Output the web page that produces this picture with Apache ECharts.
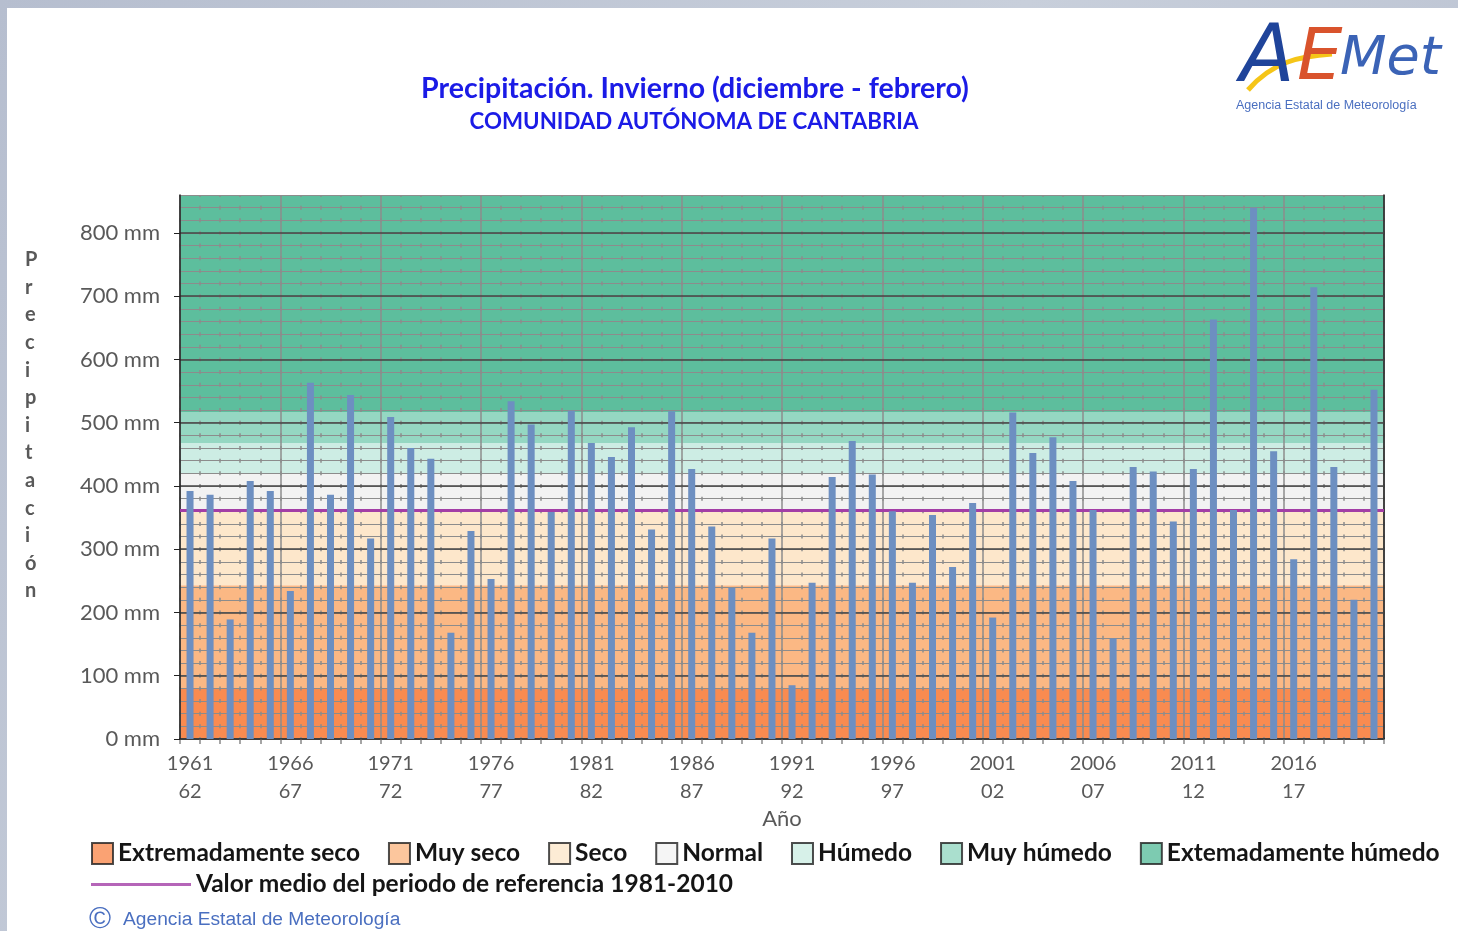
<!DOCTYPE html>
<html>
<head>
  <meta charset="utf-8">
  <script src="https://cdn.jsdelivr.net/npm/echarts/dist/echarts.min.js"></script>
  <style>
    body { margin: 0; background: #bcc4d3; overflow: hidden; }
    #main { position: absolute; left: 0; top: 0; width: 1458px; height: 931px; }
  </style>
  <title>Precipitación invierno Cantabria</title>
  <script type="text/javascript">

    // winters (Dec-Feb), label "start-end"
    const winters = [
      '1961-62','1962-63','1963-64','1964-65','1965-66','1966-67','1967-68','1968-69','1969-70','1970-71',
      '1971-72','1972-73','1973-74','1974-75','1975-76','1976-77','1977-78','1978-79','1979-80','1980-81',
      '1981-82','1982-83','1983-84','1984-85','1985-86','1986-87','1987-88','1988-89','1989-90','1990-91',
      '1991-92','1992-93','1993-94','1994-95','1995-96','1996-97','1997-98','1998-99','1999-00','2000-01',
      '2001-02','2002-03','2003-04','2004-05','2005-06','2006-07','2007-08','2008-09','2009-10','2010-11',
      '2011-12','2012-13','2013-14','2014-15','2015-16','2016-17','2017-18','2018-19','2019-20','2020-21'
    ];
    // precipitation (mm)
    const precip = [
      392, 386, 189, 408, 392, 234, 563, 386, 544, 317,
      509, 460, 443, 168, 329, 253, 534, 497, 359, 519,
      468, 446, 493, 331, 518, 427, 336, 239, 168, 317,
       85, 247, 414, 471, 418, 360, 247, 354, 272, 373,
      192, 516, 452, 477, 408, 362, 159, 430, 423, 344,
      427, 663, 362, 840, 455, 284, 714, 430, 220, 552
    ];
    // classification bands
    const bandNames = ['Extremadamente seco', 'Muy seco', 'Seco', 'Normal', 'Húmedo', 'Muy húmedo', 'Extemadamente húmedo'];
    const bandLimits = [0, 80, 243, 361, 419, 468, 517, 860];
    const bandColors = ['#F98B50', '#FBB884', '#FDE7CB', '#F2F2F2', '#CDEDE4', '#95D7C2', '#5DBE9D'];
    const meanName = 'Valor medio del periodo de referencia 1981-2010';
    const meanValue = 361;
    const yTicks = [0, 100, 200, 300, 400, 500, 600, 700, 800];

    const FONT = 'Lato';
    const GREY = '#595959';
    const PLOT_TOP = 195, PLOT_H = 544;
    const YMAX = 860;

    function init() {
      const chart = echarts.init(document.getElementById('main'));

      const bandSeries = bandNames.map((name, i) => ({
        name: name,
        type: 'scatter',
        data: [],
        z: 1,
        itemStyle: { color: bandColors[i], borderColor: '#222', borderWidth: 1.5 },
        markArea: {
          silent: true,
          itemStyle: { color: bandColors[i] },
          data: [[{ yAxis: bandLimits[i] }, { yAxis: bandLimits[i + 1] }]]
        }
      }));

      const minorStep = PLOT_H / YMAX * 20;
      const legendText = { color: '#151515', fontSize: 24.5, fontWeight: 'bold', fontFamily: FONT };

      const option = {
        animation: false,
        backgroundColor: {
          type: 'linear', x: 0, y: 0, x2: 1, y2: 1,
          colorStops: [
            { offset: 0, color: '#b6becf' },
            { offset: 0.5, color: '#c8cfdb' },
            { offset: 1, color: '#b4bccd' }
          ]
        },
        textStyle: { fontFamily: FONT },
        title: [
          {
            text: 'Precipitación. Invierno (diciembre - febrero)',
            left: 690, top: 69, textAlign: 'center',
            textStyle: { color: '#1B1BE6', fontSize: 28.5, fontWeight: 'bold', fontFamily: FONT }
          },
          {
            text: 'COMUNIDAD AUTÓNOMA DE CANTABRIA',
            left: 689, top: 106, textAlign: 'center',
            textStyle: { color: '#1B1BE6', fontSize: 22.3, fontWeight: 'bold', fontFamily: FONT }
          }
        ],
        legend: [
          {
            data: bandNames.map(n => ({ name: n, icon: 'rect' })),
            left: 86, top: 836,
            itemWidth: 21, itemHeight: 21, itemGap: 28,
            selectedMode: false,
            textStyle: legendText
          },
          {
            data: [{ name: meanName, icon: 'path://M0,0H100V3H0Z', itemStyle: { borderWidth: 0 } }],
            left: 86, top: 867,
            itemWidth: 100, itemHeight: 3,
            selectedMode: false,
            textStyle: legendText
          }
        ],
        grid: { left: 180, top: PLOT_TOP, right: 74, height: PLOT_H },
        xAxis: [
          {
            type: 'category',
            data: winters,
            z: 3,
            axisLine: { lineStyle: { color: '#222', width: 1.5 } },
            axisTick: { show: true, interval: 0, length: 5, lineStyle: { color: '#888', width: 1.5 } },
            axisLabel: {
              interval: 4,
              formatter: v => v.replace('-', '\n'),
              color: GREY, fontSize: 20, lineHeight: 28, margin: 11, fontFamily: FONT
            },
            splitLine: {
              show: true,
              interval: (i) => i % 5 === 0,
              lineStyle: { color: '#8c8c8c', width: 1.5 }
            }
          },
          {
            type: 'category',
            data: winters,
            position: 'top',
            z: 3,
            axisLine: { show: true, lineStyle: { color: '#222', width: 1.5 } },
            axisTick: { show: false },
            axisLabel: { show: false },
            splitLine: {
              show: true,
              interval: 0,
              lineStyle: { color: '#8c8c8c', width: 1.5, type: [4, minorStep - 4], dashOffset: 2 }
            }
          }
        ],
        yAxis: [
          {
            type: 'value', min: 0, max: YMAX, interval: 100,
            z: 4,
            axisLine: { show: true, lineStyle: { color: '#222', width: 1.5 } },
            axisTick: { show: true, length: 6, lineStyle: { color: '#222' }, customValues: yTicks },
            axisLabel: {
              formatter: '{value} mm', customValues: yTicks,
              color: GREY, fontSize: 22, margin: 20, fontFamily: FONT
            },
            splitLine: { lineStyle: { color: '#444', width: 1.5 } }
          },
          {
            type: 'value', min: 0, max: YMAX, interval: 20,
            position: 'right',
            z: 3,
            axisLine: { show: true, lineStyle: { color: '#222', width: 1.5 } },
            axisTick: { show: false },
            axisLabel: { show: false },
            splitLine: { lineStyle: { color: '#8c8c8c', width: 1 } }
          }
        ],
        series: bandSeries.concat([
          {
            name: meanName,
            type: 'scatter',
            data: [],
            z: 5,
            itemStyle: { color: '#A33EA6' },
            markLine: {
              silent: true,
              symbol: 'none',
              label: { show: false },
              lineStyle: { color: '#A33EA6', width: 3, type: 'solid' },
              data: [{ yAxis: meanValue }]
            }
          },
          {
            name: 'Precipitación',
            type: 'bar',
            data: precip,
            barWidth: 7,
            z: 6,
            itemStyle: { color: '#6D8FC1' }
          }
        ]),
        graphic: [
          {
            type: 'rect', z: -100, silent: true,
            shape: { x: 7, y: 8, width: 1451, height: 923 },
            style: { fill: '#ffffff' }
          },
          {
            type: 'text', left: 25, top: 246,
            style: {
              text: 'Precipitación'.split('').join('\n'),
              fill: GREY, fontSize: 20, fontWeight: 'bold', lineHeight: 27.6,
              fontFamily: FONT, align: 'center'
            }
          },
          {
            type: 'text', x: 782, y: 819,
            style: { text: 'Año', fill: GREY, fontSize: 22, fontFamily: FONT, align: 'center', verticalAlign: 'middle' }
          },
          {
            type: 'text', x: 89, y: 920,
            style: { text: '©', fill: '#4a6fc0', fontSize: 30, fontFamily: 'Liberation Sans', verticalAlign: 'middle' }
          },
          {
            type: 'text', x: 123, y: 920,
            style: { text: 'Agencia Estatal de Meteorología', fill: '#4a6fc0', fontSize: 19.2, fontFamily: 'Liberation Sans', verticalAlign: 'middle' }
          },
          // logo
          {
            type: 'bezierCurve',
            shape: { x1: 1248, y1: 90, x2: 1332, y2: 54, cpx1: 1272, cpy1: 62, cpx2: 1300, cpy2: 56 },
            style: { stroke: '#F5C518', lineWidth: 5, fill: null }
          },
          {
            type: 'text', x: 1240, y: 60,
            style: { text: 'A', fill: '#1F449A', fontSize: 80, fontStyle: 'italic', fontFamily: 'DejaVu Sans', verticalAlign: 'middle' }
          },
          {
            type: 'text', x: 1297, y: 60,
            style: { text: 'E', fill: '#D9532C', fontSize: 72, fontStyle: 'italic', fontFamily: 'DejaVu Sans', verticalAlign: 'middle' }
          },
          {
            type: 'text', x: 1340, y: 60,
            style: { text: 'Met', fill: '#3B63B6', fontSize: 54, fontStyle: 'italic', fontFamily: 'DejaVu Sans', verticalAlign: 'middle' }
          },
          {
            type: 'text', x: 1236, y: 106,
            style: { text: 'Agencia Estatal de Meteorología', fill: '#4a6fc0', fontSize: 12.5, fontFamily: 'Liberation Sans', verticalAlign: 'middle' }
          }
        ]
      };
      chart.setOption(option);
    }
  </script>
</head>
<body onload="init()">
  <div id="main"></div>
</body>
</html>
